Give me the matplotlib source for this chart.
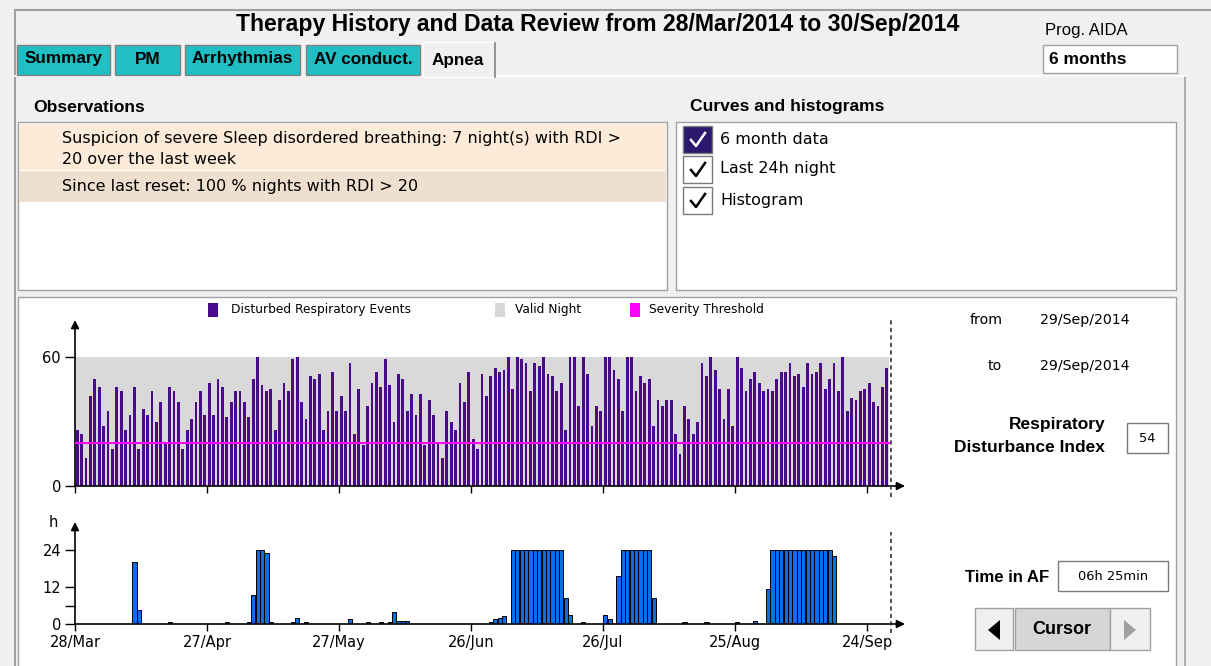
import matplotlib
matplotlib.use("Agg")
import matplotlib.pyplot as plt
from matplotlib.patches import Rectangle, Polygon

# ---------------- data ----------------
rdi_values = [
    26, 24, 13, 42, 50, 46, 28, 35, 17, 46,
    44, 26, 33, 46, 17, 36, 33, 44, 30, 39,
    20, 46, 44, 39, 17, 26, 31, 39, 44, 33,
    48, 33, 50, 46, 32, 39, 44, 44, 39, 32,
    50, 60, 47, 44, 45, 26, 40, 48, 44, 59,
    60, 39, 31, 51, 50, 52, 26, 35, 53, 35,
    42, 35, 57, 24, 45, 19, 37, 48, 53, 46,
    59, 47, 30, 52, 50, 35, 43, 33, 43, 19,
    40, 33, 20, 13, 35, 30, 26, 48, 39, 53,
    22, 17, 52, 42, 51, 55, 53, 54, 60, 45,
    60, 59, 57, 44, 57, 56, 60, 52, 51, 44,
    48, 26, 60, 60, 37, 60, 52, 28, 37, 35,
    60, 60, 54, 50, 35, 60, 60, 44, 51, 48,
    50, 28, 40, 37, 40, 40, 24, 15, 37, 31,
    24, 30, 57, 51, 60, 54, 45, 31, 45, 28,
    60, 55, 44, 50, 53, 48, 44, 45, 44, 50,
    53, 53, 57, 51, 52, 46, 57, 52, 53, 57,
    45, 50, 57, 44, 60, 35, 41, 40, 44, 45,
    48, 39, 37, 46, 55,
]
valid_night = [60] * len(rdi_values)
severity_threshold = 20

af_hours = [
    0, 0, 0, 0, 0, 0, 0, 0, 0, 0,
    0, 0, 0, 20, 4.5, 0, 0, 0, 0, 0,
    0, 0.5, 0, 0, 0, 0, 0, 0, 0, 0,
    0, 0, 0, 0, 0.5, 0, 0, 0, 0, 0.5,
    9.5, 24, 24, 23, 0.5, 0, 0, 0, 0, 0.5,
    2, 0, 0.5, 0, 0, 0, 0, 0, 0, 0,
    0, 0, 1.5, 0, 0, 0, 0.5, 0, 0, 0.5,
    0, 0.5, 4, 1, 1, 1, 0, 0, 0, 0,
    0, 0, 0, 0, 0, 0, 0, 0, 0, 0,
    0, 0, 0, 0, 0.5, 1.5, 2, 2.5, 0, 24,
    24, 24, 24, 24, 24, 24, 24, 24, 24, 24,
    24, 8.5, 3, 0, 0, 0.5, 0, 0, 0, 0,
    3, 1.5, 0, 15.5, 24, 24, 24, 24, 24, 24,
    24, 8.5, 0, 0, 0, 0, 0, 0, 0.5, 0,
    0, 0, 0, 0.5, 0, 0, 0, 0, 0, 0,
    0.5, 0, 0, 0, 1, 0, 0, 11.5, 24, 24,
    24, 24, 24, 24, 24, 24, 24, 24, 24, 24,
    24, 24, 22, 0, 0, 0, 0, 0, 0, 0,
    0, 0, 0, 0, 0,
]
tick_days = [0, 30, 60, 90, 120, 150, 180]
tick_labels = ["28/Mar", "27/Apr", "27/May", "26/Jun", "26/Jul", "25/Aug", "24/Sep"]
cursor_day = 185.5

days = list(range(len(rdi_values)))

W, H = 1211, 666
fig = plt.figure(figsize=(W / 100, H / 100), dpi=100)
fig.patch.set_facecolor("#F0F0F0")

bg = fig.add_axes([0, 0, 1, 1])
bg.set_xlim(0, W)
bg.set_ylim(H, 0)
bg.axis("off")

UI = ["Liberation Sans", "DejaVu Sans"]
NARROW = ["Liberation Sans Narrow", "Liberation Sans", "DejaVu Sans"]
CH = ["DejaVu Sans"]


def rect(x0, y0, x1, y1, fc="none", ec="none", lw=1.0, z=1):
    bg.add_patch(Rectangle((x0, y0), x1 - x0, y1 - y0, facecolor=fc,
                           edgecolor=ec, linewidth=lw, zorder=z))


def txt(x, y, s, size=10, weight="normal", ha="left", va="center", family=UI, color="black", z=5):
    bg.text(x, y, s, fontsize=size, fontweight=weight, ha=ha, va=va,
            family=family, color=color, zorder=z)


# outer frame
bg.plot([15, W], [10, 10], color="#A0A0A0", lw=1.5, zorder=2)
bg.plot([15, 15], [10, H], color="#A0A0A0", lw=1.5, zorder=2)
bg.plot([1185, 1185], [76, H], color="#A0A0A0", lw=1.2, zorder=2)
bg.plot([15, 1185], [76, 76], color="#FFFFFF", lw=1.2, zorder=2)

# title
txt(598, 25, "Therapy History and Data Review from 28/Mar/2014 to 30/Sep/2014",
    size=16.6, weight="bold", ha="center")

# tabs
tabs = [("Summary", 17, 110), ("PM", 115, 180), ("Arrhythmias", 185, 300),
        ("AV conduct.", 306, 420)]
for name, x0, x1 in tabs:
    rect(x0, 45, x1, 75, fc="#1FBFC4", ec="#808080", lw=1, z=2)
    txt((x0 + x1) / 2, 59, name, size=12.3, weight="bold", ha="center", family=NARROW)
rect(423, 42, 495, 77, fc="#F0F0F0", ec="#FFFFFF", lw=1, z=3)
bg.plot([495, 495], [43, 77], color="#808080", lw=1.2, zorder=4)
txt(458, 60, "Apnea", size=12.3, weight="bold", ha="center", family=NARROW)

# prog aida
txt(1045, 31, "Prog. AIDA", size=12)
rect(1043, 45, 1177, 73, fc="white", ec="#A0A0A0", lw=1, z=2)
txt(1049, 59, "6 months", size=12.5, weight="bold")

# observations
txt(33, 107, "Observations", size=12.6, weight="bold")
rect(18, 122, 667, 290, fc="white", ec="#A0A0A0", lw=1, z=2)
rect(19, 124, 666, 170, fc="#FCEBD8", z=3)
rect(19, 171, 666, 202, fc="#EFDFCE", z=3)
txt(62, 139, "Suspicion of severe Sleep disordered breathing: 7 night(s) with RDI >", size=11.5, family=CH)
txt(62, 160, "20 over the last week", size=11.5, family=CH)
txt(62, 186, "Since last reset: 100 % nights with RDI > 20", size=11.5, family=CH)

# curves and histograms
txt(690, 107, "Curves and histograms", size=12.6, weight="bold")
rect(676, 122, 1176, 290, fc="white", ec="#A0A0A0", lw=1, z=2)
checks = [("6 month data", 139, True), ("Last 24h night", 169, False), ("Histogram", 200, False)]
for label, yc, filled in checks:
    rect(683, yc - 13, 712, yc + 14, fc="#2B1A6E" if filled else "white",
         ec="#7A7A7A", lw=1, z=3)
    ccol = "white" if filled else "black"
    bg.plot([691, 696, 705], [yc + 1, yc + 7, yc - 6], color=ccol, lw=1.8, zorder=4)
    txt(720, yc, label, size=11.5, family=CH)

# chart panel
rect(18, 297, 1176, H + 2, fc="white", ec="#A0A0A0", lw=1, z=2)

# legend
rect(208, 303, 218, 317, fc="#4B0A8C", z=3)
txt(231, 310, "Disturbed Respiratory Events", size=8.8, family=CH)
rect(495, 303, 505, 317, fc="#D8D8D8", z=3)
txt(515, 310, "Valid Night", size=8.8, family=CH)
rect(630, 303, 640, 317, fc="#FF00FF", z=3)
txt(649, 310, "Severity Threshold", size=8.8, family=CH)

# right side info
txt(970, 320, "from", size=10.2, family=CH)
txt(1040, 320, "29/Sep/2014", size=10.2, family=CH)
txt(988, 366, "to", size=10.2, family=CH)
txt(1040, 366, "29/Sep/2014", size=10.2, family=CH)
txt(1105, 425, "Respiratory", size=12.5, weight="bold", ha="right")
txt(1105, 448, "Disturbance Index", size=12.5, weight="bold", ha="right")
rect(1127, 423, 1168, 453, fc="white", ec="#7A7A7A", lw=1, z=3)
txt(1147, 438, "54", size=9.4, ha="center", family=CH)
txt(965, 577, "Time in AF", size=12.1, weight="bold")
rect(1058, 561, 1168, 591, fc="white", ec="#7A7A7A", lw=1, z=3)
txt(1113, 576, "06h 25min", size=9.4, ha="center", family=CH)

# cursor buttons
rect(975, 608, 1013, 650, fc="#F0F0F0", ec="#A0A0A0", lw=1, z=3)
rect(1015, 608, 1110, 650, fc="#D6D6D6", ec="#A0A0A0", lw=1, z=3)
rect(1110, 608, 1150, 650, fc="#F0F0F0", ec="#A0A0A0", lw=1, z=3)
bg.add_patch(Polygon([[1000, 620], [1000, 640], [988, 630]], closed=True, fc="black", zorder=4))
bg.add_patch(Polygon([[1124, 620], [1124, 640], [1136, 630]], closed=True, fc="#A0A0A0", zorder=4))
txt(1062, 630, "Cursor", size=13, weight="bold", ha="center")

# ---------------- charts ----------------
PX_DAY = 4.4
X0, X1 = 75, 905
xmax = (X1 - X0) / PX_DAY


def make_axes(y_zero, y_top, px_unit):
    ax = fig.add_axes([X0 / W, 1 - y_zero / H, (X1 - X0) / W, (y_zero - y_top) / H])
    ax.set_xlim(0, xmax)
    ax.set_ylim(0, (y_zero - y_top) / px_unit)
    ax.patch.set_alpha(0)
    for s in ax.spines.values():
        s.set_visible(False)
    ax.annotate("", xy=(1, 0), xytext=(0, 0), xycoords="axes fraction",
                arrowprops=dict(arrowstyle="-|>", color="black", lw=1.2,
                                mutation_scale=12, shrinkA=0, shrinkB=0))
    ax.annotate("", xy=(0, 1), xytext=(0, 0), xycoords="axes fraction",
                arrowprops=dict(arrowstyle="-|>", color="black", lw=1.2,
                                mutation_scale=12, shrinkA=0, shrinkB=0))
    ax.set_xticks(tick_days)
    ax.tick_params(axis="both", direction="out", length=5, width=1, color="black",
                   labelsize=10.5, pad=3)
    return ax


# top chart
ax1 = make_axes(486, 320, 129 / 60)
ax1.bar(days, valid_night, width=1.0, align="edge", color="#D9D9D9", lw=0, zorder=1)
purple = ax1.bar([d + 0.18 for d in days], rdi_values, width=0.64, align="edge",
                 color="#4B0A8C", edgecolor="none", lw=0, zorder=2)
for p in purple:
    p.set_snap(True)
ax1.plot([0, len(rdi_values)], [severity_threshold, severity_threshold],
         color="#FF00FF", lw=1.5, zorder=3)
ax1.set_yticks([0, 60])
ax1.set_xticklabels([])
ax1.tick_params(axis="y", length=7)
ax1.plot([cursor_day, cursor_day], [-5, 78], color="#333333", lw=1.2,
         ls=(0, (2.5, 2)), clip_on=False, zorder=4)
for lab in ax1.get_yticklabels():
    lab.set_family(CH)

# bottom chart
ax2 = make_axes(624, 522, 74 / 24)
blue = ax2.bar([d + 0.05 for d in days], af_hours, width=0.95, align="edge",
               color="#0A6EEA", edgecolor="black", lw=0.7, zorder=2)
for p in blue:
    p.set_snap(True)
ax2.set_yticks([0, 12, 24])
ax2.set_yticks([6], minor=True)
ax2.tick_params(axis="y", which="both", length=7, width=1)
ax2.set_xticklabels(tick_labels)
ax2.plot([cursor_day, cursor_day], [-3, 30], color="#333333", lw=1.2,
         ls=(0, (2.5, 2)), clip_on=False, zorder=4)
ax2.text(-5, 33, "h", fontsize=10.5, family=CH, ha="center", va="center")
for lab in ax2.get_yticklabels() + ax2.get_xticklabels():
    lab.set_family(CH)

fig.savefig("out.png", dpi=100, facecolor=fig.get_facecolor())
